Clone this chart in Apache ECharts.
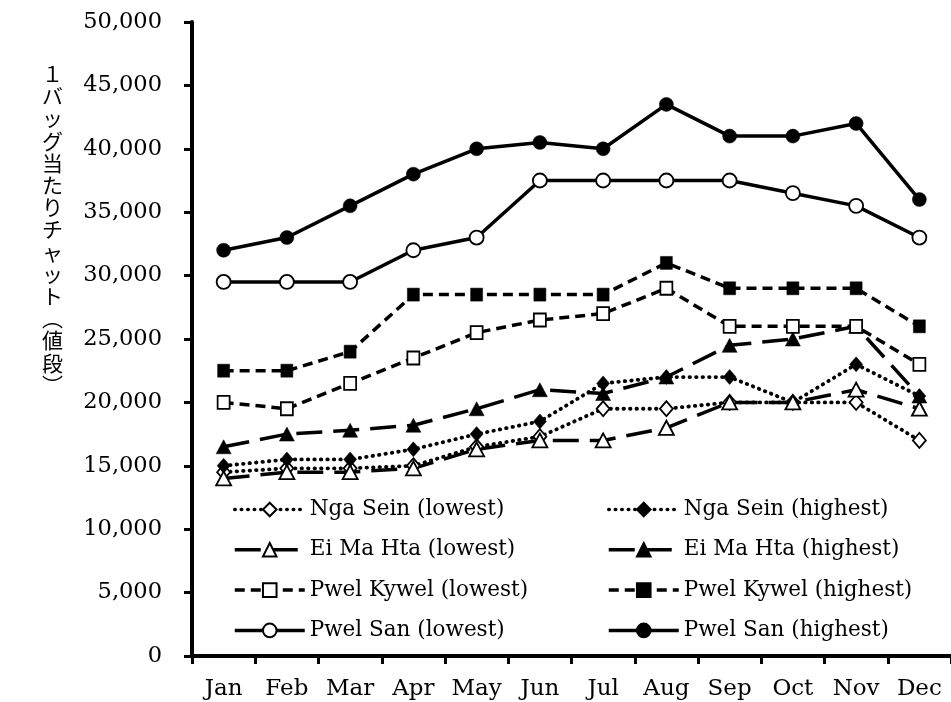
<!DOCTYPE html>
<html>
<head>
<meta charset="utf-8">
<script src="https://cdn.jsdelivr.net/npm/echarts@6/dist/echarts.min.js"></script>
<style>
  html, body { margin: 0; padding: 0; background: #fff; }
  #chart { width: 951px; height: 702px; }
</style>
</head>
<body>
<div id="chart"></div>
<script>
// Monthly price per bag (kyat) for four rice varieties, lowest and highest
const months = ['Jan', 'Feb', 'Mar', 'Apr', 'May', 'Jun', 'Jul', 'Aug', 'Sep', 'Oct', 'Nov', 'Dec'];

const ngaSeinLow   = [14500, 14800, 14800, 15000, 16500, 17300, 19500, 19500, 20000, 20000, 20000, 17000];
const ngaSeinHigh  = [15000, 15500, 15500, 16300, 17500, 18500, 21500, 22000, 22000, 20000, 23000, 20500];
const eiMaHtaLow   = [14000, 14500, 14500, 14800, 16300, 17000, 17000, 18000, 20000, 20000, 21000, 19500];
const eiMaHtaHigh  = [16500, 17500, 17800, 18200, 19500, 21000, 20700, 22000, 24500, 25000, 26000, 20500];
const pwelKywelLow = [20000, 19500, 21500, 23500, 25500, 26500, 27000, 29000, 26000, 26000, 26000, 23000];
const pwelKywelHigh= [22500, 22500, 24000, 28500, 28500, 28500, 28500, 31000, 29000, 29000, 29000, 26000];
const pwelSanLow   = [29500, 29500, 29500, 32000, 33000, 37500, 37500, 37500, 37500, 36500, 35500, 33000];
const pwelSanHigh  = [32000, 33000, 35500, 38000, 40000, 40500, 40000, 43500, 41000, 41000, 42000, 36000];

const yAxisTitle = '１バッグ当たりチャット︵値段︶';

const SERIF = 'DejaVu Serif, Liberation Serif, serif';
const CJK = 'Noto Sans CJK JP';
const INK = '#000';

const dotted    = [0.5, 6];
const longDash  = [26, 11];
const shortDash = [10, 6];

function makeSeries(name, data, symbol, size, filled, dash) {
  const isDot = dash === dotted;
  return {
    name: name,
    type: 'line',
    data: data,
    symbol: symbol,
    symbolSize: size,
    showAllSymbol: true,
    lineStyle: { color: INK, width: isDot ? 3.8 : 3.5, type: dash, cap: isDot ? 'round' : 'butt' },
    itemStyle: { color: filled ? INK : '#fff', borderColor: INK, borderWidth: filled ? 0.5 : 1.8 },
    emphasis: { disabled: true },
    animation: false
  };
}

const series = [
  makeSeries('Nga Sein (lowest)', ngaSeinLow, 'diamond', [13, 15], false, dotted),
  makeSeries('Nga Sein (highest)', ngaSeinHigh, 'diamond', [13, 15], true, dotted),
  makeSeries('Ei Ma Hta (lowest)', eiMaHtaLow, 'triangle', [15, 14], false, longDash),
  makeSeries('Ei Ma Hta (highest)', eiMaHtaHigh, 'triangle', [15, 14], true, longDash),
  makeSeries('Pwel Kywel (lowest)', pwelKywelLow, 'rect', [12, 13], false, shortDash),
  makeSeries('Pwel Kywel (highest)', pwelKywelHigh, 'rect', [12, 13], true, shortDash),
  makeSeries('Pwel San (lowest)', pwelSanLow, 'circle', 14, false, 'solid'),
  makeSeries('Pwel San (highest)', pwelSanHigh, 'circle', 14, true, 'solid')
];

const legendBase = {
  orient: 'vertical',
  top: 493,
  itemWidth: 70,
  itemHeight: 17,
  itemGap: 17.3,
  selectedMode: false,
  lineStyle: { width: 3.5 },
  textStyle: { fontFamily: SERIF, fontSize: 21.5, color: INK, lineHeight: 23 }
};

const chart = echarts.init(document.getElementById('chart'), null, { renderer: 'canvas' });
chart.setOption({
  backgroundColor: '#fff',
  animation: false,
  grid: { left: 192, top: 22, width: 765, height: 634, containLabel: false },
  legend: [
    Object.assign({}, legendBase, {
      left: 228,
      data: ['Nga Sein (lowest)', 'Ei Ma Hta (lowest)', 'Pwel Kywel (lowest)', 'Pwel San (lowest)']
    }),
    Object.assign({}, legendBase, {
      left: 602,
      data: ['Nga Sein (highest)', 'Ei Ma Hta (highest)', 'Pwel Kywel (highest)', 'Pwel San (highest)']
    })
  ],
  // vertical y-axis title, one character per line
  graphic: [{
    type: 'text',
    left: 42,
    top: 63,
    style: {
      text: yAxisTitle.split('').join('\n'),
      fontFamily: CJK,
      fontSize: 21,
      lineHeight: 22.2,
      fill: INK,
      align: 'center'
    }
  }],
  xAxis: {
    type: 'category',
    data: months,
    boundaryGap: true,
    axisLine: { lineStyle: { color: INK, width: 4 } },
    axisTick: { show: true, interval: 0, length: 8, inside: false, lineStyle: { color: INK, width: 3 } },
    axisLabel: { interval: 0, hideOverlap: false, fontFamily: SERIF, fontSize: 23, color: INK, margin: 22 },
    splitLine: { show: false }
  },
  yAxis: {
    type: 'value',
    min: 0,
    max: 50000,
    interval: 5000,
    axisLine: { show: true, lineStyle: { color: INK, width: 4 } },
    axisTick: { show: true, length: 8, lineStyle: { color: INK, width: 3 } },
    axisLabel: {
      fontFamily: SERIF, fontSize: 22.5, color: INK, margin: 30,
      formatter: v => v.toLocaleString('en-US')
    },
    splitLine: { show: false }
  },
  series: series
});
</script>
</body>
</html>
